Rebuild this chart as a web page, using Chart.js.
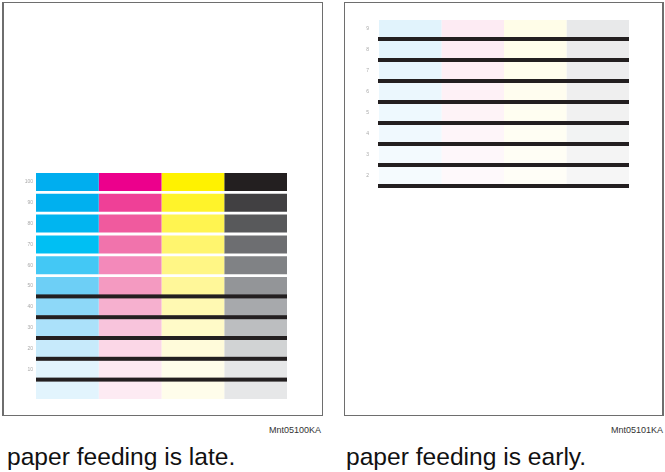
<!DOCTYPE html>
<html>
<head>
<meta charset="utf-8">
<script src="https://cdn.jsdelivr.net/npm/chart.js@4/dist/chart.umd.min.js"></script>
<style>
    body { margin: 0; background: #fff; font-family: 'Liberation Sans', Arial, sans-serif; }
    #page { position: relative; width: 665px; height: 472px; overflow: hidden; }
    .frame { position: absolute; border: 1px solid #6e6e6e; background: #fff; box-sizing: border-box; }
    canvas { position: absolute; }
    .code { position: absolute; font-size: 9px; color: #333; text-align: right; }
    .caption { position: absolute; font-size: 24.6px; color: #111; white-space: nowrap; }
</style>
</head>
<body>
<div id="page">
    <div class="frame" style="left:2px; top:2px; width:321px; height:414px; border-left-width:2px;"></div>
    <div class="frame" style="left:344px; top:2px; width:320px; height:414px; border-right-width:2px;"></div>
    <canvas id="lateChart" width="300" height="250" style="left:0; top:160px;"></canvas>
    <canvas id="earlyChart" width="318" height="200" style="left:345px; top:0;"></canvas>
    <div class="code" style="left:200px; top:425px; width:121px;">Mnt05100KA</div>
    <div class="code" style="left:540px; top:425px; width:123px;">Mnt05101KA</div>
    <div class="caption" style="left:7px; top:443px;">paper feeding is late.</div>
    <div class="caption" style="left:346px; top:443px;">paper feeding is early.</div>
</div>
<script>
// left sheet: density steps in %
const lateRows = ['100', '90', '80', '70', '60', '50', '40', '30', '20', '10', ''];
const latePatch = [1, 1, 1, 1, 1, 1, 1, 1, 1, 1, 1];
const lateCyan = ['#00aeef', '#00b0ef', '#00b5f0', '#00bff3', '#43c8f5', '#6dcff6', '#8dd8f8', '#abe1fa', '#c7eafb', '#e2f4fd', '#e2f4fd'];
const lateMagenta = ['#ec008c', '#ef4097', '#f05a9e', '#f173ac', '#f389ba', '#f49ac1', '#f6b0cf', '#f8c4dc', '#fbd7e7', '#fdeaf2', '#fdebf3'];
const lateYellow = ['#fff200', '#fff32a', '#fff450', '#fff56e', '#fff685', '#fff799', '#fff9b2', '#fffac8', '#fffbda', '#fffdeb', '#fffdeb'];
const lateBlack = ['#231f20', '#414042', '#58595b', '#6d6e71', '#808285', '#939598', '#a7a9ac', '#bcbec0', '#d1d3d4', '#e6e7e8', '#e6e7e8'];
const lateLines = [5, 6, 7, 8, 9]; // black bars after these rows

// right sheet
const earlyRows = ['9', '8', '7', '6', '5', '4', '3', '2'];
const earlyPatch = [1, 1, 1, 1, 1, 1, 1, 1];
const earlyCyan = ['#e1f3fc', '#e4f5fd', '#e8f6fd', '#ebf7fd', '#eef9fe', '#f0f9fe', '#f3fafe', '#f5fbfe'];
const earlyMagenta = ['#fdebf3', '#fdedf4', '#feeff5', '#fef1f6', '#fef3f7', '#fef5f9', '#fef7fa', '#fef9fb'];
const earlyYellow = ['#fffde8', '#fffdeb', '#fffded', '#fffdef', '#fffef1', '#fffef3', '#fffef5', '#fffef7'];
const earlyBlack = ['#e8e9ea', '#ebebec', '#ededee', '#efefef', '#f1f1f1', '#f2f3f3', '#f4f4f4', '#f6f6f6'];
const earlyLines = [0, 1, 2, 3, 4, 5, 6, 7];

const inkCount = 4;

// black bars drawn between rows, placed with the scales
const blackBars = {
    id: 'blackBars',
    afterDatasetsDraw(chart, args, opts) {
        const {ctx, scales: {x, y}} = chart;
        ctx.save();
        ctx.fillStyle = '#231f20';
        opts.rows.forEach(r => {
            const py = y.getPixelForValue(r + 0.5);
            const x0 = x.getPixelForValue(0) - opts.extend;
            const x1 = x.getPixelForValue(inkCount);
            ctx.fillRect(x0, py - opts.thickness / 2, x1 - x0, opts.thickness);
        });
        ctx.restore();
    }
};

function makeSheet(id, rows, patch, inks, lines, cfg) {
    const names = ['Cyan', 'Magenta', 'Yellow', 'Black'];
    new Chart(document.getElementById(id).getContext('2d'), {
        type: 'bar',
        data: {
            labels: rows,
            datasets: inks.map((colors, i) => ({
                label: names[i],
                data: patch,
                backgroundColor: colors,
                borderWidth: 0,
                barPercentage: 1,
                categoryPercentage: cfg.catPct
            }))
        },
        options: {
            indexAxis: 'y',
            responsive: false,
            animation: false,
            devicePixelRatio: 1,
            layout: { padding: cfg.padding },
            scales: {
                x: { stacked: true, min: 0, max: inkCount, display: false },
                y: {
                    stacked: true,
                    grid: { display: false, drawTicks: false },
                    border: { display: false },
                    ticks: {
                        padding: cfg.tickPad,
                        color: '#a9a9a9',
                        font: { family: 'Liberation Sans', size: 5 }
                    },
                    afterFit: scale => { scale.width = cfg.axisWidth; }
                }
            },
            plugins: {
                legend: { display: false },
                tooltip: { enabled: false },
                blackBars: { rows: lines, thickness: 4, extend: cfg.extend }
            }
        },
        plugins: [blackBars]
    });
}

makeSheet('lateChart', lateRows, latePatch, [lateCyan, lateMagenta, lateYellow, lateBlack], lateLines, {
    catPct: 0.865,
    padding: { top: 11.6, bottom: 9.6, left: 0, right: 13 },
    tickPad: 3,
    axisWidth: 36,
    extend: 0
});

makeSheet('earlyChart', earlyRows, earlyPatch, [earlyCyan, earlyMagenta, earlyYellow, earlyBlack], earlyLines, {
    catPct: 0.81,
    padding: { top: 18, bottom: 14, left: 0, right: 34 },
    tickPad: 10,
    axisWidth: 34,
    extend: 1
});
</script>
</body>
</html>
